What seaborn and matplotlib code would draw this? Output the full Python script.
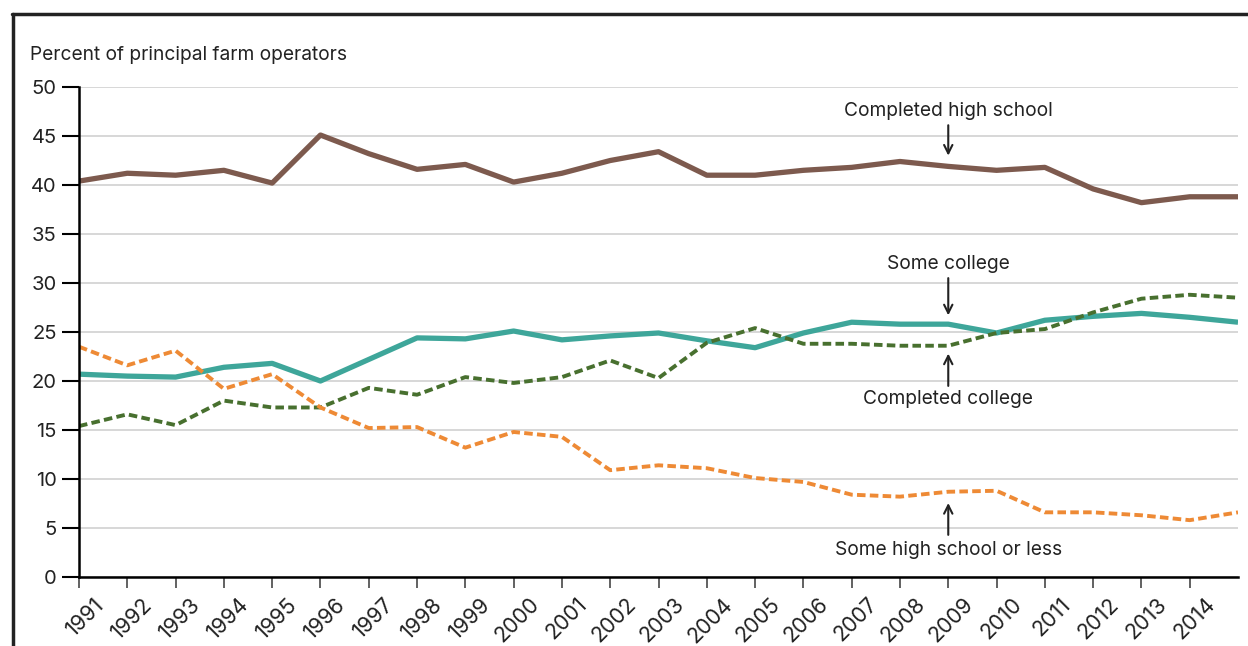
import matplotlib
matplotlib.use("Agg")
import matplotlib.pyplot as plt
from matplotlib.lines import Line2D
from matplotlib.transforms import ScaledTranslation
import pandas as pd
import seaborn as sns

years = list(range(1991, 2016))

completed_high_school = [40.4, 41.2, 41.0, 41.5, 40.2, 45.1, 43.2, 41.6, 42.1, 40.3,
                         41.2, 42.5, 43.4, 41.0, 41.0, 41.5, 41.8, 42.4, 41.9, 41.5,
                         41.8, 39.6, 38.2, 38.8, 38.8]
some_college = [20.7, 20.5, 20.4, 21.4, 21.8, 20.0, 22.2, 24.4, 24.3, 25.1,
                24.2, 24.6, 24.9, 24.1, 23.4, 24.9, 26.0, 25.8, 25.8, 24.9,
                26.2, 26.6, 26.9, 26.5, 26.0]
completed_college = [15.4, 16.6, 15.5, 18.0, 17.3, 17.3, 19.3, 18.6, 20.4, 19.8,
                     20.4, 22.1, 20.3, 23.9, 25.4, 23.8, 23.8, 23.6, 23.6, 24.9,
                     25.3, 27.0, 28.4, 28.8, 28.5]
some_high_school = [23.5, 21.6, 23.1, 19.2, 20.7, 17.3, 15.2, 15.3, 13.2, 14.8,
                    14.3, 10.9, 11.4, 11.1, 10.1, 9.7, 8.4, 8.2, 8.7, 8.8,
                    6.6, 6.6, 6.3, 5.8, 6.6]

tick_years = list(range(1991, 2015))

sns.set_theme(style="white")
plt.rcParams["font.family"] = ["Inter", "DejaVu Sans"]

fig = plt.figure(figsize=(12.48, 6.46), dpi=100)
ax = fig.add_axes([0.0633, 0.1068, 0.9287, 0.7585])

series = [
    (completed_high_school, "#7d5a4e", None, 3.8),
    (some_college, "#3ea69a", None, 3.8),
    (completed_college, "#48702f", (2.2, 1.1), 2.8),
    (some_high_school, "#ee8a35", (2.2, 1.1), 2.8),
]
for vals, color, dash, lw in series:
    df = pd.DataFrame({"year": years, "value": vals})
    sns.lineplot(data=df, x="year", y="value", ax=ax, color=color, linewidth=lw)
    if dash:
        ax.lines[-1].set_dashes(dash)
    ax.lines[-1].set_solid_capstyle("butt")

ax.set_xlim(1991, 2015)
ax.set_ylim(0, 50)
ax.set_yticks(range(0, 51, 5))
ax.set_xticks(tick_years)
ax.set_xticklabels([])
# year labels, nudged right of their tick like the original
lbl_trans = ax.get_xaxis_transform() + ScaledTranslation(15 / 100, -17 / 100, fig.dpi_scale_trans)
for yr in tick_years:
    ax.text(yr, 0, str(yr), transform=lbl_trans, rotation=45, ha="right", va="top",
            rotation_mode="anchor", fontsize=15.5, color="#222222")
ax.tick_params(axis="y", labelsize=14.5, labelcolor="#222222", length=12,
               width=1.5, color="black", direction="out", left=True, pad=4)
ax.tick_params(axis="x", length=8, width=1.3, color="#555555", bottom=True)
ax.yaxis.grid(True, color="#d4d4d4", linewidth=1.3)
ax.set_axisbelow(True)
ax.set_xlabel("")
ax.set_ylabel("")
for s in ["top", "right"]:
    ax.spines[s].set_visible(False)
for s in ["left", "bottom"]:
    ax.spines[s].set_color("black")
    ax.spines[s].set_linewidth(1.8)

fig.text(30 / 1248, 1 - 55 / 646, "Percent of principal farm operators",
         fontsize=13.8, color="#222222", va="center", ha="left")

# label text position, arrow start, arrow end (data units)
notes = [
    ("Completed high school", 2009, 47.55, 46.1, 43.0),
    ("Some college", 2009, 31.9, 30.5, 26.7),
    ("Completed college", 2009, 18.2, 19.5, 22.8),
    ("Some high school or less", 2009, 2.75, 4.3, 7.55),
]
for text, x, ty, a0, a1 in notes:
    ax.annotate("", xy=(x, a1), xytext=(x, a0),
                arrowprops=dict(arrowstyle="->,head_length=0.5,head_width=0.25",
                                color="#222222", lw=1.5, shrinkA=0, shrinkB=0))
    ax.text(x, ty, text, ha="center", va="center", fontsize=13.8, color="#222222")

# outer frame: top and left borders
fig.add_artist(Line2D([12 / 1248, 1], [1 - 14 / 646, 1 - 14 / 646], color="#222222", lw=2.5))
fig.add_artist(Line2D([13 / 1248, 13 / 1248], [0, 1 - 14 / 646], color="#222222", lw=2.5))

fig.savefig("out.png", dpi=100)
